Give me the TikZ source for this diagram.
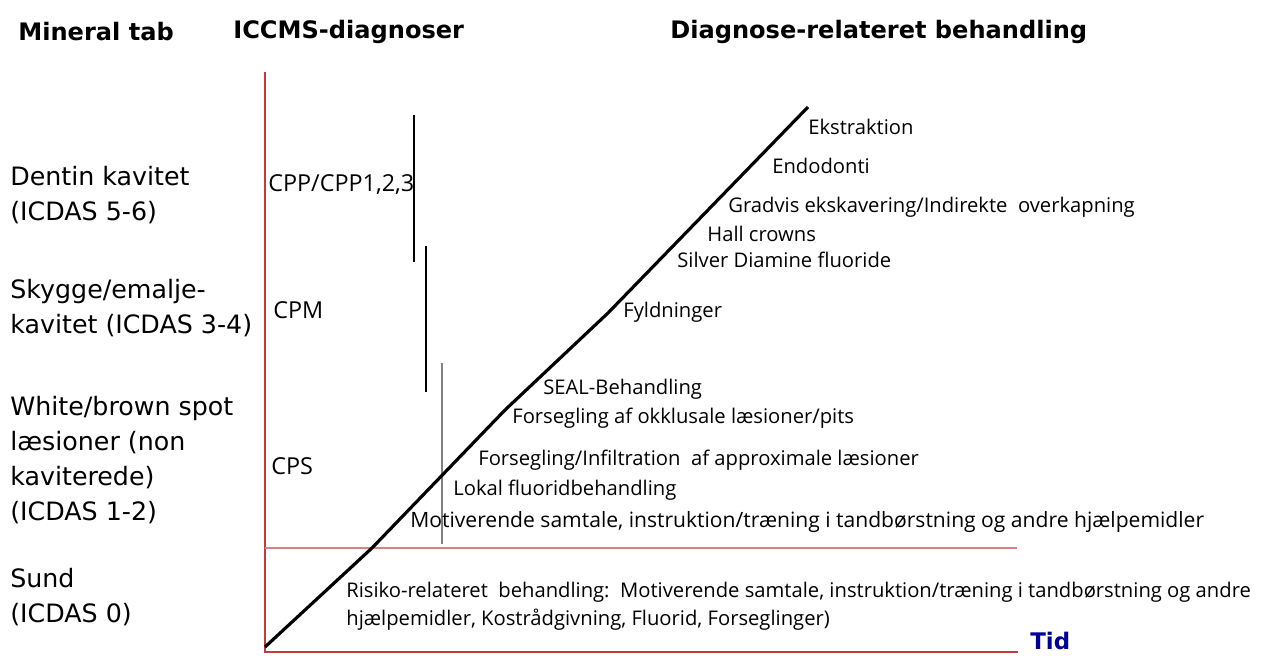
\documentclass[tikz,border=0pt]{standalone}
\usepackage{fontspec}
\setmainfont{Open Sans}
\newfontfamily\verdana{DejaVu Sans}
\usetikzlibrary{positioning}
\definecolor{axisred}{RGB}{192,60,60}
\definecolor{softred}{RGB}{215,130,130}
\definecolor{tidblue}{RGB}{0,0,150}
\tikzset{
	heading/.style={
		font=\verdana\bfseries\fontsize{13.7}{16}\selectfont,
		anchor=west,
		inner sep=0pt
	},
	level/.style={
		font=\verdana\fontsize{14.4}{20}\selectfont,
		align=left,
		anchor=west,
		inner sep=0pt
	},
	diagnosis/.style={
		font=\fontsize{13.3}{15}\selectfont,
		anchor=west,
		inner sep=0pt
	},
	treatment/.style={
		font=\fontsize{11.5}{16}\selectfont,
		align=left,
		anchor=west,
		inner sep=0pt
	},
	axis/.style={
		draw=axisred,
		line width=.6pt
	},
	course/.style={
		line width=1.8pt,
		line join=round
	},
	diagspan/.style={
		line width=.6pt
	}
}

\begin{document}
\begin{tikzpicture}[x=0.02cm, y=-0.02cm]
\useasboundingbox (0,0) rectangle (1272,656);

% ---
% Headings
% ---
\node[heading] (mineral) at (18,32) {Mineral tab};
\node[heading] (iccms) at (233,32) {ICCMS-diagnoser};
\node[heading] (behandling) at (670,32) {Diagnose-relateret behandling};

% ---
% Axes
% ---
\coordinate (top) at (265,72);
\coordinate (origin) at (265,652);
\coordinate (sundL) at (265,548);
\coordinate (sundR) at (1017,548);
\coordinate (tidL) at (1018,652);
\draw[axis] (top) -- (origin) -- (tidL);
\draw[axis, draw=softred] (sundL) -- (sundR);
\node[anchor=west, inner sep=0pt, font=\verdana\bfseries\fontsize{13}{15}\selectfont, text=tidblue] (tid) at (1030,641) {Tid};

% ---
% Mineral levels
% ---
\node[level] (dentin) at (10,195) {Dentin kavitet\\(ICDAS 5-6)};
\node[level] (skygge) at (10,308) {Skygge/emalje-\\kavitet (ICDAS 3-4)};
\node[level] (spot) at (10,460) {White/brown spot\\l\ae sioner (non\\kaviterede)\\(ICDAS 1-2)};
\node[level] (sund) at (10,597) {Sund\\(ICDAS 0)};

% ---
% ICCMS diagnoses and spans
% ---
\node[diagnosis] (cpp) at (268,185) {CPP/CPP1,2,3};
\node[diagnosis] (cpm) at (273,310) {CPM};
\node[diagnosis] (cps) at (271,466) {CPS};
\coordinate (cppT) at (414,115);
\coordinate (cppB) at (414,262);
\coordinate (cpmT) at (426,246);
\coordinate (cpmB) at (426,392);
\coordinate (cpsT) at (442,363);
\coordinate (cpsB) at (442,544);
\draw[diagspan] (cppT) -- (cppB);
\draw[diagspan] (cpmT) -- (cpmB);
\draw[diagspan, draw=gray] (cpsT) -- (cpsB);

% ---
% Treatment course
% ---
\coordinate (c0) at (265,647);
\coordinate (c1) at (372,548);
\coordinate (c2) at (505,410);
\coordinate (c3) at (608,313);
\coordinate (c4) at (808,107);
\draw[course] (c0) -- (c1) -- (c2) -- (c3) -- (c4);

\node[treatment] (ekstraktion) at (808,127) {Ekstraktion};
\node[treatment] (endodonti) at (772,166) {Endodonti};
\node[treatment] (gradvis) at (728,207) {Gradvis ekskavering/Indirekte\ \ overkapning};
\node[treatment] (hall) at (707,234) {Hall crowns};
\node[treatment] (sdf) at (677,260) {Silver Diamine fluoride};
\node[treatment] (fyld) at (623,312) {Fyldninger};
\node[treatment] (seal) at (543,389) {SEAL-Behandling};
\node[treatment] (okklusal) at (512,418) {Forsegling af okklusale l\ae sioner/pits};
\node[treatment] (approx) at (478,460) {Forsegling/Infiltration\ \ af approximale l\ae sioner};
\node[treatment] (lokal) at (453,490) {Lokal fluoridbehandling};
\node[treatment, font=\fontsize{12}{16}\selectfont] (motiv) at (410,522) {Motiverende samtale, instruktion/tr\ae ning i tandb\o rstning og andre hj\ae lpemidler};
\node[treatment] (risiko) at (346,606) {Risiko-relateret\ \ behandling:\ \ Motiverende samtale, instruktion/tr\ae ning i tandb\o rstning og andre\\hj\ae lpemidler, Kostr\aa dgivning, Fluorid, Forseglinger)};
\end{tikzpicture}
\end{document}
